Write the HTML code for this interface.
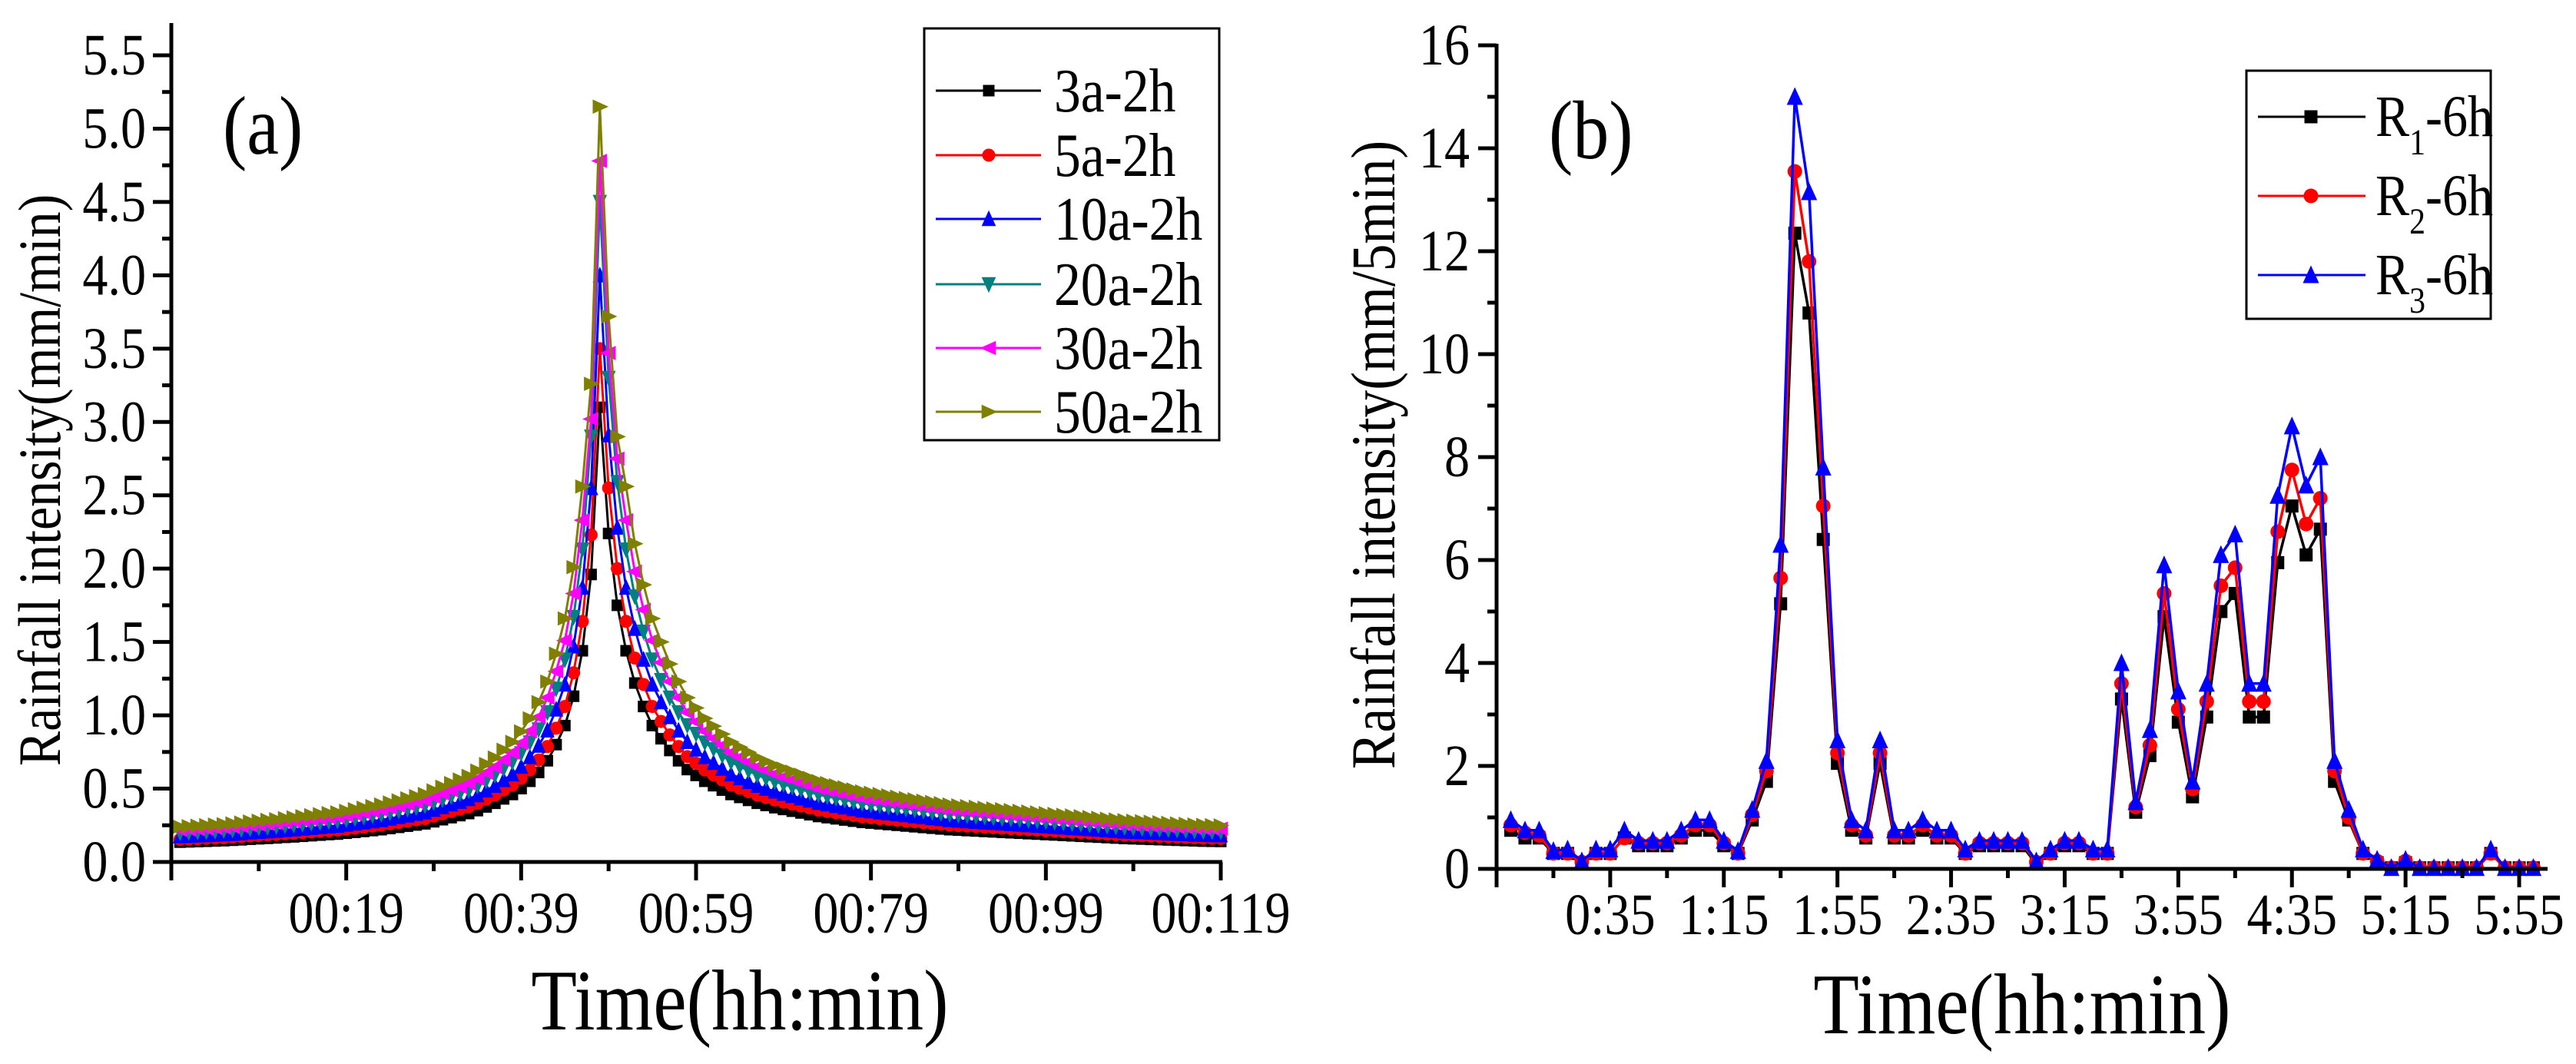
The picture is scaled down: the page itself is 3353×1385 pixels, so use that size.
<!DOCTYPE html>
<html><head><meta charset="utf-8"><style>
html,body{margin:0;padding:0;background:#fff;}
svg{display:block;}
text{font-family:"Liberation Serif","DejaVu Serif",serif;fill:#000;}
</style></head><body>
<svg id="chart" xmlns="http://www.w3.org/2000/svg" width="3353" height="1385" viewBox="0 0 3353 1385"></svg>
<script>
// ===== Panel (a) data =====
const aSeriesNames = ["3a-2h","5a-2h","10a-2h","20a-2h","30a-2h","50a-2h"];
const aYTicks = ["0.0","0.5","1.0","1.5","2.0","2.5","3.0","3.5","4.0","4.5","5.0","5.5"];
const aXTickLabels = ["00:19","00:39","00:59","00:79","00:99","00:119"];
const a3 = [.135,.137,.139,.141,.143,.145,.148,.151,.155,.158,.161,.164,.168,.171,.175,.179,.183,.187,.19,.196,.202,.208,.214,.22,.228,.236,.244,.252,.26,.274,.288,.302,.316,.33,.35,.375,.40,.43,.46,.50,.55,.61,.69,.80,.93,1.13,1.44,1.96,
 3.10,
 2.24,1.75,1.44,1.22,1.06,.93,.84,.76,.69,.63,.59,.55,.52,.49,.46,.44,.42,.40,.385,.37,.358,.346,.334,.322,.31,.302,.294,.286,.278,.27,.265,.26,.255,.25,.245,.24,.235,.23,.225,.22,.217,.214,.211,.208,.205,.202,.199,.196,.193,.19,.187,.184,.181,.178,.175,.172,.169,.166,.163,.16,.158,.156,.154,.152,.15,.148,.146,.144,.142,.141,.14];
const a5 = [.154,.156,.158,.161,.163,.165,.169,.172,.177,.18,.184,.187,.192,.195,.2,.204,.209,.213,.217,.223,.23,.237,.244,.251,.26,.269,.278,.287,.296,.312,.328,.344,.36,.376,.399,.428,.456,.49,.524,.57,.627,.695,.787,.912,1.06,1.29,1.64,2.23,
 3.5,
 2.55,2.0,1.64,1.39,1.21,1.06,.958,.866,.787,.718,.673,.627,.593,.559,.524,.502,.479,.456,.439,.422,.408,.394,.381,.367,.353,.344,.335,.326,.317,.308,.302,.296,.291,.285,.279,.274,.268,.262,.257,.251,.247,.244,.241,.237,.234,.23,.227,.223,.22,.217,.213,.21,.206,.203,.2,.196,.193,.189,.186,.182,.18,.178,.176,.173,.171,.169,.166,.164,.162,.161,.16];
const a10 = [.176,.178,.181,.183,.186,.189,.192,.196,.202,.205,.209,.213,.218,.222,.228,.233,.238,.243,.247,.255,.263,.27,.278,.286,.296,.307,.317,.328,.338,.356,.374,.393,.411,.429,.455,.488,.52,.559,.598,.65,.715,.793,.897,1.04,1.21,1.47,1.87,2.55,
 4.0,
 2.91,2.28,1.87,1.59,1.38,1.21,1.09,.988,.897,.819,.767,.715,.676,.637,.598,.572,.546,.52,.5,.481,.465,.45,.434,.419,.403,.393,.382,.372,.361,.351,.345,.338,.332,.325,.319,.312,.306,.299,.293,.286,.282,.278,.274,.27,.267,.263,.259,.255,.251,.247,.243,.239,.235,.231,.228,.224,.22,.216,.212,.208,.205,.203,.2,.198,.195,.192,.19,.187,.185,.183,.182];
const a20 = [.2,.203,.206,.209,.212,.215,.219,.223,.229,.234,.238,.243,.249,.253,.259,.265,.271,.277,.281,.29,.299,.308,.317,.326,.337,.349,.361,.373,.385,.406,.426,.447,.468,.488,.518,.555,.592,.636,.681,.74,.814,.903,1.02,1.18,1.38,1.67,2.13,2.9,
 4.5,
 3.3,2.59,2.13,1.81,1.57,1.38,1.24,1.12,1.02,.932,.873,.814,.77,.725,.681,.651,.622,.592,.57,.548,.53,.512,.494,.477,.459,.447,.435,.423,.411,.4,.392,.385,.377,.37,.363,.355,.348,.34,.333,.326,.321,.317,.312,.308,.303,.299,.295,.29,.286,.281,.277,.272,.268,.263,.259,.255,.25,.246,.241,.237,.234,.231,.228,.225,.222,.219,.216,.213,.21,.209,.207];
const a30 = [.219,.222,.225,.228,.232,.235,.24,.245,.251,.256,.261,.266,.272,.277,.284,.29,.296,.303,.308,.318,.327,.337,.347,.356,.369,.382,.395,.408,.421,.444,.467,.489,.512,.535,.567,.608,.648,.697,.745,.81,.891,.988,1.12,1.3,1.51,1.83,2.33,3.02,
 4.78,
 3.47,2.75,2.33,1.98,1.72,1.51,1.36,1.23,1.12,1.02,.956,.891,.842,.794,.745,.713,.68,.648,.624,.599,.58,.561,.541,.522,.502,.489,.476,.463,.45,.437,.429,.421,.413,.405,.397,.389,.381,.373,.365,.356,.352,.347,.342,.337,.332,.327,.322,.318,.313,.308,.303,.298,.293,.288,.284,.279,.274,.269,.264,.259,.256,.253,.249,.246,.243,.24,.237,.233,.23,.228,.227];
const a50 = [.24,.244,.247,.251,.255,.258,.263,.269,.276,.281,.287,.292,.299,.304,.312,.319,.326,.333,.338,.349,.36,.37,.381,.392,.406,.42,.434,.449,.463,.488,.513,.538,.562,.587,.623,.668,.712,.765,.819,.89,.979,1.09,1.23,1.42,1.66,2.01,2.56,3.26,
 5.15,
 3.72,2.9,2.56,2.17,1.89,1.66,1.5,1.35,1.23,1.12,1.05,.979,.926,.872,.819,.783,.748,.712,.685,.659,.637,.616,.595,.573,.552,.538,.523,.509,.495,.481,.472,.463,.454,.445,.436,.427,.418,.409,.401,.392,.386,.381,.376,.37,.365,.36,.354,.349,.344,.338,.333,.328,.322,.317,.312,.306,.301,.295,.29,.285,.281,.278,.274,.271,.267,.263,.26,.256,.253,.251,.249];

// ===== Panel (b) data =====
const bSeriesNames = ["1","2","3"];
const bYTicks = ["0","2","4","6","8","10","12","14","16"];
const bXTickLabels = ["0:35","1:15","1:55","2:35","3:15","3:55","4:35","5:15","5:55"];
const bR1 = [0.75,0.6,0.6,0.3,0.3,0.1,0.3,0.3,0.6,0.45,0.45,0.45,0.6,0.75,0.75,0.45,0.3,0.95,1.7,5.15,12.35,10.8,6.4,2.05,0.75,0.6,2.05,0.6,0.6,0.75,0.6,0.6,0.3,0.45,0.45,0.45,0.45,0.1,0.3,0.45,0.45,0.3,0.3,3.3,1.1,2.2,4.9,2.85,1.4,2.95,5.0,5.35,2.95,2.95,5.95,7.05,6.1,6.6,1.7,0.95,0.3,0.12,0.02,0.12,0.02,0.02,0.02,0.02,0.02,0.3,0.02,0.02,0.02];
const bR2 = [0.85,0.7,0.65,0.3,0.3,0.13,0.3,0.3,0.6,0.5,0.5,0.5,0.65,0.85,0.85,0.5,0.3,1.05,1.9,5.65,13.55,11.8,7.05,2.25,0.85,0.65,2.25,0.65,0.65,0.85,0.65,0.65,0.3,0.5,0.5,0.5,0.5,0.13,0.3,0.5,0.5,0.3,0.3,3.6,1.2,2.4,5.35,3.1,1.55,3.25,5.5,5.85,3.25,3.25,6.55,7.75,6.7,7.2,1.9,1.0,0.3,0.15,0.02,0.15,0.02,0.02,0.02,0.02,0.02,0.3,0.02,0.02,0.02];
const bR3 = [0.95,0.75,0.75,0.35,0.38,0.15,0.38,0.38,0.75,0.55,0.55,0.55,0.75,0.95,0.95,0.55,0.35,1.15,2.1,6.3,15.0,13.15,7.8,2.5,0.95,0.75,2.5,0.75,0.75,0.95,0.75,0.75,0.38,0.55,0.55,0.55,0.55,0.15,0.38,0.55,0.55,0.38,0.38,4.0,1.3,2.7,5.9,3.45,1.7,3.6,6.1,6.5,3.6,3.6,7.25,8.6,7.45,8.0,2.1,1.15,0.38,0.18,0.02,0.18,0.02,0.02,0.02,0.02,0.02,0.38,0.02,0.02,0.02];

const NS = "http://www.w3.org/2000/svg";
const svg = document.getElementById('chart');
const SX = 0.87;
const FF = '"Liberation Serif", serif';

function mk(tag, attrs, parent) {
  const e = document.createElementNS(NS, tag);
  for (const k in attrs) e.setAttribute(k, attrs[k]);
  (parent || svg).appendChild(e);
  return e;
}
function txt(str, x, y, size, anchor, rot, parent) {
  const t = mk('text', {x: 0, y: 0, 'font-size': size, 'font-family': FF, 'text-anchor': anchor || 'start',
    transform: 'translate(' + x + ',' + y + ')' + (rot ? ' rotate(' + rot + ')' : '') + ' scale(' + SX + ',1)'}, parent);
  t.textContent = str;
  return t;
}
function marker(g, type, cx, cy, s, color) {
  let e;
  if (type === 'square') e = mk('rect', {x: cx - s/2, y: cy - s/2, width: s, height: s, fill: color}, g);
  else if (type === 'circle') e = mk('circle', {cx: cx, cy: cy, r: s/2 + 1, fill: color}, g);
  else {
    const h = s * 0.62;
    let p;
    if (type === 'up') p = [[cx, cy - h - 2], [cx - h, cy + h], [cx + h, cy + h]];
    else if (type === 'down') p = [[cx, cy + h + 2], [cx - h, cy - h], [cx + h, cy - h]];
    else if (type === 'left') p = [[cx - h - 2, cy], [cx + h, cy - h], [cx + h, cy + h]];
    else p = [[cx + h + 2, cy], [cx - h, cy - h], [cx - h, cy + h]];
    e = mk('polygon', {points: p.map(q => q.join(',')).join(' '), fill: color}, g);
  }
  return e;
}

// ===== Panel (a) =====
(function(){
  const L = 223, R = 1589, B = 1122, T = 30;
  const xMin = -1, xMax = 119, yMax = 5.5, yTop5p5 = 72;
  const xs = v => L + (v - xMin) * (R - L) / (xMax - xMin);
  const ys = v => B - v * (B - yTop5p5) / yMax;
  const g = mk('g', {});  
  const series = [a3, a5, a10, a20, a30, a50];
  const colors = ['#000000', '#ff0000', '#0000ff', '#008080', '#ff00ff', '#808000'];
  const types = ['square', 'circle', 'up', 'down', 'left', 'right'];
  series.forEach((arr, si) => {
    const sg = mk('g', {}, g);
    
    
    const pts = arr.map((v, i) => xs(i).toFixed(1) + ',' + ys(v).toFixed(1)).join(' ');
    mk('polyline', {points: pts, fill: 'none', stroke: colors[si], 'stroke-width': 3}, sg);
    arr.forEach((v, i) => marker(sg, types[si], xs(i), ys(v), 15, colors[si]));
  });
  const ax = mk('g', {stroke: '#000', 'stroke-width': 5, fill: 'none'}, g);
   
  mk('line', {x1: L, y1: T, x2: L, y2: B + 2}, ax);
  mk('line', {x1: L - 2, y1: B, x2: R + 2, y2: B}, ax);
  for (let k = 0; k <= 22; k++) {
    const v = k * 0.25, y = ys(v);
    mk('line', {x1: L - (k % 2 === 0 ? 24 : 12), y1: y, x2: L, y2: y}, ax);
  }
  for (let k = 0; k <= 12; k++) {
    const v = xMin + k * 10, x = xs(v);
    mk('line', {x1: x, y1: B, x2: x, y2: B + (k % 2 === 0 ? 24 : 12)}, ax);
  }
  aYTicks.forEach((s, k) => { const t = txt(s, 190, ys(k * 0.5) + 25, 76, 'end', 0, g);   });
  aXTickLabels.forEach((s, k) => { const t = txt(s, xs(19 + k * 20), 1214, 76, 'middle', 0, g);   });
  let t = txt('Time(hh:min)', 963, 1340, 112, 'middle', 0, g);  
  t = txt('Rainfall intensity(mm/min)', 78, 625, 78, 'middle', -90, g);  
  t = txt('(a)', 290, 200, 108, 'start', 0, g);  
  const lg = mk('g', {}, g);  
  mk('rect', {x: 1203, y: 37, width: 384, height: 536, fill: '#fff', stroke: '#000', 'stroke-width': 3}, lg);
  const ly = [118, 202, 285, 370, 453, 536];
  aSeriesNames.forEach((nm, i) => {
    const eg = mk('g', {}, lg);  
    mk('line', {x1: 1218, y1: ly[i], x2: 1355, y2: ly[i], stroke: colors[i], 'stroke-width': 3}, eg);
    marker(eg, types[i], 1287, ly[i], 15, colors[i]);
    txt(nm, 1372, ly[i] + 27, 80, 'start', 0, eg);
  });
})();

// ===== Panel (b) =====
(function(){
  const L = 1948, R = 3316, B = 1131, T16 = 59;
  const xMin = -5, xMax = 365;
  const xs = v => L + (v - xMin) * (R - L) / (xMax - xMin);
  const ys = v => B - v * (B - T16) / 16;
  const g = mk('g', {});  
  const series = [bR1, bR2, bR3];
  const colors = ['#000000', '#ff0000', '#0000ff'];
  const types = ['square', 'circle', 'up'];
  series.forEach((arr, si) => {
    const sg = mk('g', {}, g);
    
    
    const pts = arr.map((v, i) => xs(i * 5).toFixed(1) + ',' + ys(v).toFixed(1)).join(' ');
    mk('polyline', {points: pts, fill: 'none', stroke: colors[si], 'stroke-width': 3.5}, sg);
    arr.forEach((v, i) => marker(sg, types[si], xs(i * 5), ys(v), 17, colors[si]));
  });
  const ax = mk('g', {stroke: '#000', 'stroke-width': 5, fill: 'none'}, g);
   
  mk('line', {x1: L, y1: T16 - 2, x2: L, y2: B + 2}, ax);
  mk('line', {x1: L - 2, y1: B, x2: R, y2: B}, ax);
  for (let k = 0; k <= 16; k++) {
    const y = ys(k);
    mk('line', {x1: L - (k % 2 === 0 ? 24 : 12), y1: y, x2: L, y2: y}, ax);
  }
  for (let k = 0; k <= 18; k++) {
    const x = xs(xMin + k * 20);
    if (x > R + 1) break;
    mk('line', {x1: x, y1: B, x2: x, y2: B + (k % 2 === 0 ? 24 : 12)}, ax);
  }
  bYTicks.forEach((s, k) => { const t = txt(s, 1913, ys(k * 2) + 25, 76, 'end', 0, g);   });
  bXTickLabels.forEach((s, k) => { const t = txt(s, xs(35 + k * 40), 1216, 76, 'middle', 0, g);   });
  let t = txt('Time(hh:min)', 2632, 1345, 112, 'middle', 0, g);  
  t = txt('Rainfall intensity(mm/5min)', 1815, 592, 82, 'middle', -90, g);  
  t = txt('(b)', 2016, 206, 108, 'start', 0, g);  
  const lg = mk('g', {}, g);  
  mk('rect', {x: 2924, y: 92, width: 318, height: 323, fill: '#fff', stroke: '#000', 'stroke-width': 3}, lg);
  const ly = [152, 255, 358];
  bSeriesNames.forEach((nm, i) => {
    const eg = mk('g', {}, lg);  
    mk('line', {x1: 2939, y1: ly[i], x2: 3079, y2: ly[i], stroke: colors[i], 'stroke-width': 3}, eg);
    marker(eg, types[i], 3008, ly[i], 17, colors[i]);
    const tt = mk('text', {x: 0, y: 0, 'font-size': 76, 'font-family': FF, transform: 'translate(3092,' + (ly[i] + 25) + ') scale(' + SX + ',1)'}, eg);
    tt.appendChild(document.createTextNode('R'));
    const sub = mk('tspan', {'font-size': 48, dy: 24}, tt); sub.textContent = nm;
    const rest = mk('tspan', {dy: -24}, tt); rest.textContent = '-6h';
  });
})();
</script>
</body></html>
